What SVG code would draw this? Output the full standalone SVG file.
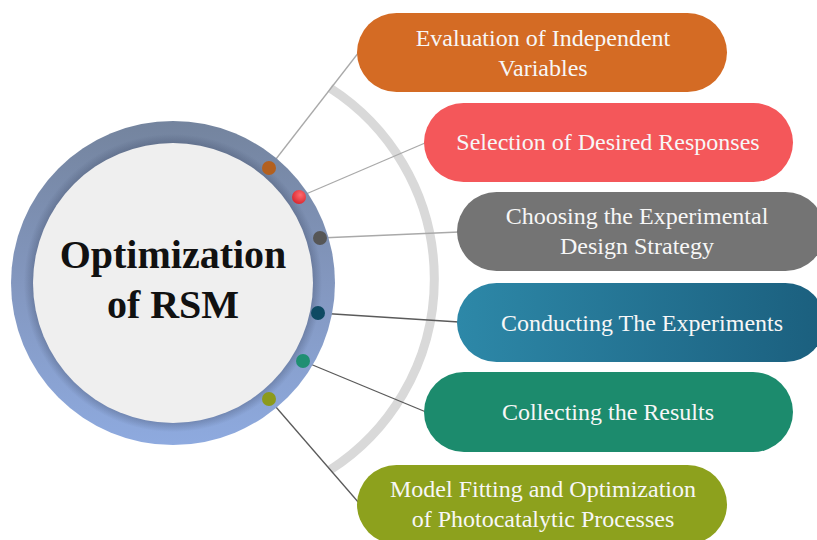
<svg xmlns="http://www.w3.org/2000/svg" width="817" height="540" viewBox="0 0 817 540">
<defs>
<linearGradient id="ringG" x1="0" y1="0" x2="0" y2="1">
<stop offset="0" stop-color="#74849e"/>
<stop offset="0.5" stop-color="#8397bf"/>
<stop offset="1" stop-color="#8eaadf"/>
</linearGradient>
<radialGradient id="ringShade" cx="0.5" cy="0.5" r="0.5">
<stop offset="0.86" stop-color="#3d4a66" stop-opacity="0.35"/>
<stop offset="0.92" stop-color="#3d4a66" stop-opacity="0"/>
<stop offset="1" stop-color="#3d4a66" stop-opacity="0"/>
</radialGradient>
<linearGradient id="navyG" x1="0" y1="0" x2="1" y2="0">
<stop offset="0" stop-color="#2d88a8"/>
<stop offset="1" stop-color="#1b5f7e"/>
</linearGradient>
<radialGradient id="redDot" cx="0.6" cy="0.35" r="0.7">
<stop offset="0" stop-color="#ff6a6e"/>
<stop offset="1" stop-color="#d8242c"/>
</radialGradient>
</defs>
<style>
.pill text{font-family:"Liberation Serif","Times New Roman",serif;font-size:24px;fill:#f7f7f7;text-anchor:middle}
.conn line{stroke-width:1.3}
.light{stroke:#a9a9a9}
.dark{stroke:#5a5a5a}
.title{font-family:"Liberation Serif","Times New Roman",serif;font-size:40px;font-weight:bold;fill:#111;text-anchor:middle}
</style>
<path d="M 330 88 A 227 227 0 0 1 330 470" fill="none" stroke="#d9d9d9" stroke-width="9"/>
<g id="connectors" class="conn">
<line class="light" x1="269" y1="168" x2="359" y2="52"/>
<line class="light" x1="299" y1="197" x2="425" y2="143"/>
<line class="light" x1="320" y1="238" x2="459" y2="232"/>
<line class="dark" x1="318" y1="313" x2="459" y2="322"/>
<line class="dark" x1="303" y1="361" x2="426" y2="412"/>
<line class="dark" x1="269" y1="399" x2="359" y2="503"/>
</g>
<g id="center">
<circle cx="173" cy="283" r="162" fill="url(#ringG)"/>
<circle cx="173" cy="283" r="162" fill="url(#ringShade)"/>
<circle cx="173" cy="283" r="140" fill="#efefef"/>
<text class="title" x="173" y="268">Optimization</text>
<text class="title" x="173" y="318">of RSM</text>
</g>
<g id="dots">
<circle cx="269" cy="168" r="7" fill="#b3601f"/>
<circle cx="299" cy="197" r="7" fill="url(#redDot)"/>
<circle cx="320" cy="238" r="7" fill="#565656"/>
<circle cx="318" cy="313" r="7" fill="#0e4a63"/>
<circle cx="303" cy="361" r="7" fill="#1f8f72"/>
<circle cx="269" cy="399" r="7" fill="#8c9a1c"/>
</g>
<g id="n1" class="pill">
<rect x="357" y="13" width="370" height="79" rx="39.5" fill="#d46b24"/>
<text x="543" y="46">Evaluation of Independent</text>
<text x="543" y="76">Variables</text>
</g>
<g id="n2" class="pill">
<rect x="424" y="103" width="369" height="79" rx="39.5" fill="#f4575a"/>
<text x="608" y="150">Selection of Desired Responses</text>
</g>
<g id="n3" class="pill">
<rect x="457" y="192" width="368" height="79" rx="39.5" fill="#747474"/>
<text x="637" y="224">Choosing the Experimental</text>
<text x="637" y="254">Design Strategy</text>
</g>
<g id="n4" class="pill">
<rect x="457" y="283" width="368" height="79" rx="39.5" fill="url(#navyG)"/>
<text x="642" y="331">Conducting The Experiments</text>
</g>
<g id="n5" class="pill">
<rect x="424" y="372" width="369" height="80" rx="40" fill="#1c8b6d"/>
<text x="608" y="420">Collecting the Results</text>
</g>
<g id="n6" class="pill">
<rect x="357" y="465" width="370" height="79" rx="39.5" fill="#8da11d"/>
<text x="543" y="497">Model Fitting and Optimization</text>
<text x="543" y="527">of Photocatalytic Processes</text>
</g>
</svg>
